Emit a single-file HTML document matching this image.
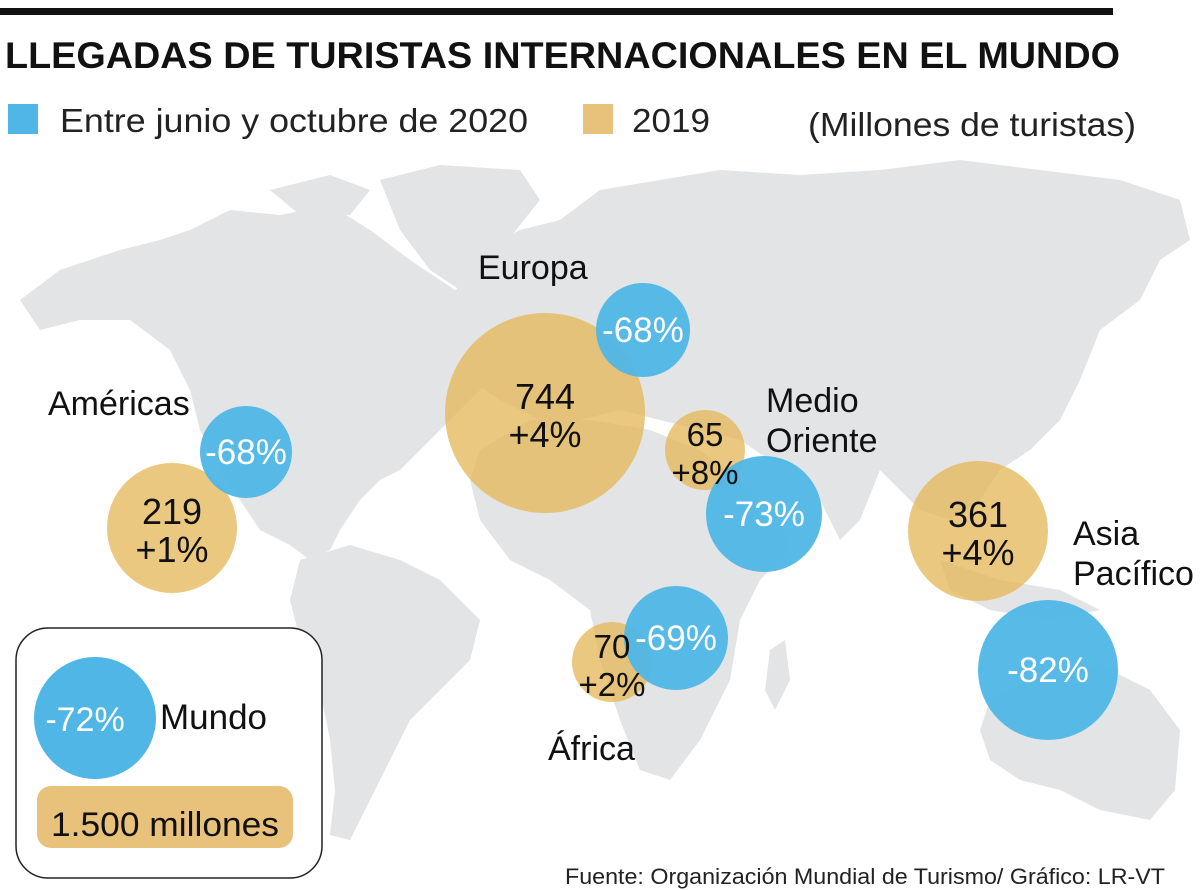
<!DOCTYPE html>
<html><head><meta charset="utf-8"><style>
html,body{margin:0;padding:0;background:#fff;width:1200px;height:890px;overflow:hidden}
svg{display:block}
text{font-family:"Liberation Sans Narrow","Liberation Sans",sans-serif}
</style></head><body>
<svg width="1200" height="890" viewBox="0 0 1200 890">
<rect x="0" y="8" width="1113" height="7" fill="#111"/>
<text x="5" y="68" font-size="37" font-weight="bold" fill="#111" textLength="1115" lengthAdjust="spacingAndGlyphs">LLEGADAS DE TURISTAS INTERNACIONALES  EN EL MUNDO</text>
<g>
<rect x="8" y="104" width="30" height="30" fill="#4fb6e6"/>
<text x="60" y="132" font-size="33" fill="#222" textLength="468" lengthAdjust="spacingAndGlyphs">Entre junio y octubre de 2020</text>
<rect x="583" y="104" width="30" height="30" fill="#e8c27a"/>
<text x="632" y="132" font-size="33" fill="#222" textLength="78" lengthAdjust="spacingAndGlyphs">2019</text>
<text x="808" y="136" font-size="33" fill="#222" textLength="328" lengthAdjust="spacingAndGlyphs">(Millones de turistas)</text>
</g>
<g fill="#e3e4e5">
<path d="M20,300 L60,270 L120,250 L160,240 L190,230 L230,210 L280,215 L330,205 L370,230 L410,260 L440,280 L470,300 L520,290 L560,320 L540,350 L500,370 L470,400 L440,430 L420,450 L400,470 L380,480 L360,500 L340,530 L330,550 L310,560 L290,545 L260,530 L240,500 L220,470 L200,430 L190,390 L170,350 L130,320 L80,320 L40,330 Z"/>
<path d="M380,180 L440,165 L520,170 L540,200 L500,250 L460,290 L430,270 L400,230 Z"/>
<path d="M270,190 L330,175 L370,190 L350,215 L300,215 Z"/>
<path d="M300,560 L350,545 L400,560 L440,580 L480,620 L470,660 L440,690 L410,720 L390,760 L370,800 L350,840 L330,835 L335,790 L330,740 L320,690 L300,640 L290,600 Z"/>
<path d="M450,300 L480,250 L520,230 L560,220 L600,190 L660,180 L720,170 L800,175 L880,170 L960,160 L1040,170 L1120,180 L1180,200 L1190,240 L1160,260 L1140,300 L1100,330 L1080,380 L1060,420 L1030,450 L1000,470 L980,500 L950,520 L920,510 L900,490 L880,470 L860,520 L840,540 L820,500 L800,470 L770,460 L740,440 L700,430 L660,420 L620,410 L580,420 L540,420 L500,400 L470,380 L455,340 Z"/>
<path d="M480,450 L530,420 L590,420 L650,430 L700,450 L740,480 L780,520 L790,550 L760,580 L740,620 L730,680 L700,740 L670,780 L640,770 L620,720 L600,660 L590,610 L550,580 L510,560 L480,520 L470,480 Z"/>
<path d="M940,560 L1000,580 L1060,590 L1100,610 L1050,620 L990,610 L950,590 Z"/>
<path d="M990,700 L1040,670 L1100,665 L1150,690 L1180,730 L1175,790 L1150,820 L1100,810 L1060,790 L1020,780 L990,760 L980,730 Z"/>
<path d="M770,650 L785,640 L790,680 L775,710 L765,690 Z"/>
</g>
<g id="bubbles"></g>
<g>
<rect x="16" y="628" width="306" height="250" rx="32" fill="#fff" stroke="#222" stroke-width="1.5"/>
<circle cx="95" cy="718" r="61" fill="#4fb6e6"/>
<text x="85" y="731" font-size="34" fill="#fff" text-anchor="middle">-72%</text>
<text x="160" y="729" font-size="35" fill="#111">Mundo</text>
<rect x="37" y="786" width="256" height="62" rx="14" fill="#e8c27a"/>
<text x="165" y="836" font-size="34" fill="#111" text-anchor="middle" textLength="228" lengthAdjust="spacingAndGlyphs">1.500 millones</text>
</g>
<text x="565" y="884" font-size="22" fill="#222" textLength="600" lengthAdjust="spacingAndGlyphs">Fuente: Organización Mundial de Turismo/ Gráfico: LR-VT</text>
</svg>
<script>
const regions = ["Américas","Europa","Medio Oriente","África","Asia Pacífico"];
const arrivals2019 = [219,744,65,70,361];
const change2019 = ["+1%","+4%","+8%","+2%","+4%"];
const change2020 = ["-68%","-68%","-73%","-69%","-82%"];
// layout (not data)
const goldPos = [[172,528,65],[545,413,100],[705,450,40],[612,662,40],[978,531,70]];
const bluePos = [[246,452,46],[643,330,47],[764,514,58],[676,638,52],[1048,670,70]];
const labelPos = [[48,415,"start"],[478,279,"start"],[766,412,"start"],[548,760,"start"],[1073,545,"start"]];
const NS="http://www.w3.org/2000/svg";
const g=document.getElementById("bubbles");
function mk(tag,attrs){const e=document.createElementNS(NS,tag);for(const k in attrs)e.setAttribute(k,attrs[k]);return e;}
regions.forEach((r,i)=>{
  const [gx,gy,gr]=goldPos[i];
  const c=mk("circle",{cx:gx,cy:gy,r:gr,fill:"#e6b95c","fill-opacity":"0.78"});
  
  
  g.appendChild(c);
});
regions.forEach((r,i)=>{
  const [bx,by,br]=bluePos[i];
  const c=mk("circle",{cx:bx,cy:by,r:br,fill:"#4fb6e6","fill-opacity":"0.95"});
  
  
  g.appendChild(c);
});
regions.forEach((r,i)=>{
  const [gx,gy]=goldPos[i];
  const fs=i==2||i==3?33:36;
  const t1=mk("text",{x:gx,y:gy-4,"font-size":fs,"text-anchor":"middle",fill:"#111"});
  t1.textContent=arrivals2019[i];
  
  
  g.appendChild(t1);
  const t2=mk("text",{x:gx,y:gy+34,"font-size":fs,"text-anchor":"middle",fill:"#111"});
  t2.textContent=change2019[i];
  
  
  g.appendChild(t2);
  const [bx,by]=bluePos[i];
  const t3=mk("text",{x:bx,y:by+12,"font-size":35,"text-anchor":"middle",fill:"#fff"});
  t3.textContent=change2020[i];
  
  
  g.appendChild(t3);
  const [lx,ly]=labelPos[i];
  const parts=r==="Medio Oriente"?["Medio","Oriente"]:r==="Asia Pacífico"?["Asia","Pacífico"]:[r];
  parts.forEach((p,j)=>{
    const t=mk("text",{x:lx,y:ly+j*40,"font-size":34,fill:"#111"});
    t.textContent=p;
    
    
    g.appendChild(t);
  });
});
</script>
</body></html>
